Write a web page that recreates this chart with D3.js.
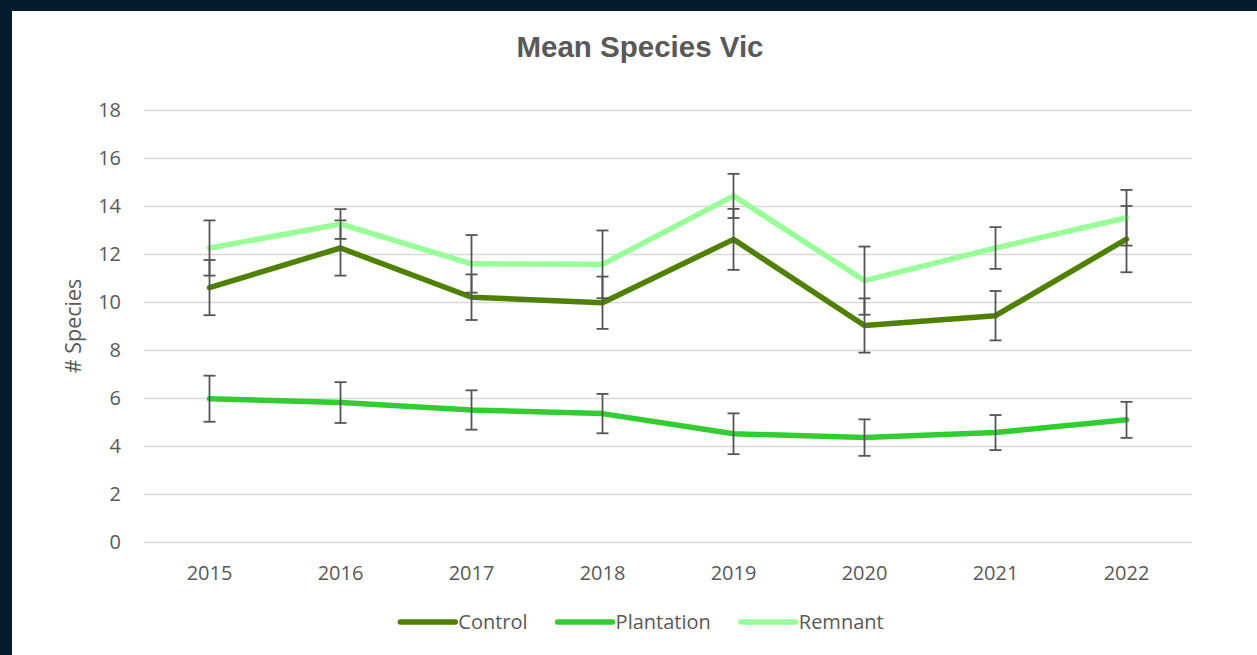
<!DOCTYPE html>
<html>
<head>
<meta charset="utf-8">
<script src="https://cdn.jsdelivr.net/npm/d3@7"></script>
<style>
  html, body { margin: 0; padding: 0; background: #041b2d; }
  svg { display: block; }
</style>
</head>
<body>
<svg id="chart" width="1257" height="655"></svg>
<script>
// Mean number of species per survey year, with standard-error bars
const years = ["2015", "2016", "2017", "2018", "2019", "2020", "2021", "2022"];

const control      = [10.60, 12.25, 10.20, 9.97, 12.61, 9.02, 9.43, 12.62];
const controlErr   = [1.15, 1.15, 0.95, 1.09, 1.27, 1.13, 1.03, 1.38];

const plantation    = [5.97, 5.81, 5.50, 5.35, 4.51, 4.35, 4.56, 5.09];
const plantationErr = [0.96, 0.85, 0.82, 0.82, 0.85, 0.76, 0.73, 0.75];

const remnant    = [12.25, 13.25, 11.59, 11.57, 14.42, 10.89, 12.25, 13.51];
const remnantErr = [1.15, 0.62, 1.20, 1.41, 0.92, 1.42, 0.87, 1.16];

const yTicks = [0, 2, 4, 6, 8, 10, 12, 14, 16, 18];

const seriesNames  = ["Control", "Plantation", "Remnant"];
const seriesColors = ["#4f8000", "#33cc33", "#99ff99"];

const series = [
  { name: seriesNames[0], color: seriesColors[0], values: control,    errs: controlErr },
  { name: seriesNames[1], color: seriesColors[1], values: plantation, errs: plantationErr },
  { name: seriesNames[2], color: seriesColors[2], values: remnant,    errs: remnantErr }
];

const W = 1257, H = 655;
const plot = { left: 144, right: 1192, top: 110, bottom: 542 };
const textColor = "#595959";
const font = "'Open Sans', 'Noto Sans', sans-serif";

const svg = d3.select("#chart");

// white chart panel on the dark page
svg.append("rect")
  .attr("x", 12).attr("y", 11)
  .attr("width", W - 12).attr("height", H - 11)
  .attr("fill", "#ffffff");

const x = d3.scaleBand().domain(years).range([plot.left, plot.right]);
const y = d3.scaleLinear().domain([0, 18]).range([plot.bottom, plot.top]);
const cx = d => x(d) + x.bandwidth() / 2;

// horizontal gridlines + y tick labels
const yAxis = svg.append("g")
  .attr("transform", `translate(${plot.left},0)`)
  .call(d3.axisLeft(y).tickValues(yTicks).tickSize(-(plot.right - plot.left)).tickPadding(23));
yAxis.select(".domain").remove();
yAxis.selectAll(".tick line").attr("stroke", "#d9d9d9").attr("stroke-width", 1.4);
yAxis.selectAll(".tick text")
  .attr("fill", textColor).attr("font-family", font).attr("font-size", 20);

// x tick labels
const xAxis = svg.append("g")
  .attr("transform", `translate(0,${plot.bottom})`)
  .call(d3.axisBottom(x).tickSize(0).tickPadding(24));
xAxis.select(".domain").remove();
xAxis.selectAll(".tick text")
  .attr("fill", textColor).attr("font-family", font).attr("font-size", 20);

// lines and error bars, drawn series by series
const line = d3.line().x((d, i) => cx(years[i])).y(d => y(d));
const capHalf = 6;

series.forEach(s => {
  svg.append("path")
    .datum(s.values)
    .attr("d", line)
    .attr("fill", "none")
    .attr("stroke", s.color)
    .attr("stroke-width", 5.5)
    .attr("stroke-linejoin", "round")
    .attr("stroke-linecap", "round");

  const eb = svg.append("g")
    .attr("stroke", "#555555")
    .attr("stroke-width", 1.8)
    .attr("fill", "none");

  const pts = s.values.map((v, i) => ({ year: years[i], v, e: s.errs[i] }));

  eb.selectAll("line.stem").data(pts).join("line")
    .attr("class", "stem")
    .attr("x1", d => cx(d.year)).attr("x2", d => cx(d.year))
    .attr("y1", d => y(d.v + d.e)).attr("y2", d => y(d.v - d.e));
  eb.selectAll("line.capTop").data(pts).join("line")
    .attr("class", "capTop")
    .attr("x1", d => cx(d.year) - capHalf).attr("x2", d => cx(d.year) + capHalf)
    .attr("y1", d => y(d.v + d.e)).attr("y2", d => y(d.v + d.e));
  eb.selectAll("line.capBot").data(pts).join("line")
    .attr("class", "capBot")
    .attr("x1", d => cx(d.year) - capHalf).attr("x2", d => cx(d.year) + capHalf)
    .attr("y1", d => y(d.v - d.e)).attr("y2", d => y(d.v - d.e));
});

// title
svg.append("text")
  .attr("x", 640).attr("y", 57)
  .attr("text-anchor", "middle")
  .attr("font-family", "'Liberation Sans', Arial, sans-serif")
  .attr("font-weight", "bold")
  .attr("font-size", 29.5)
  .attr("fill", textColor)
  .text("Mean Species Vic");

// y axis title
svg.append("text")
  .attr("transform", "translate(81,326) rotate(-90)")
  .attr("text-anchor", "middle")
  .attr("font-family", font)
  .attr("font-size", 21.5)
  .attr("fill", textColor)
  .text("# Species");

// legend, centred under the plot
const legendY = 622, swatch = 55, swatchGap = 3, itemGap = 30;
const legend = svg.append("g");
const items = series.map(s => {
  const g = legend.append("g");
  g.append("line")
    .attr("x1", 0).attr("x2", swatch)
    .attr("y1", 0).attr("y2", 0)
    .attr("stroke", s.color).attr("stroke-width", 5.5)
    .attr("stroke-linecap", "round");
  const t = g.append("text")
    .attr("x", swatch + swatchGap).attr("y", 0)
    .attr("dy", "0.35em")
    .attr("font-family", font).attr("font-size", 20)
    .attr("fill", textColor)
    .text(s.name);
  return { g, w: swatch + swatchGap + t.node().getComputedTextLength() };
});
const total = d3.sum(items, d => d.w) + itemGap * (items.length - 1);
let lx = 642 - total / 2;
items.forEach(it => {
  it.g.attr("transform", `translate(${lx},${legendY})`);
  lx += it.w + itemGap;
});
</script>
</body>
</html>
